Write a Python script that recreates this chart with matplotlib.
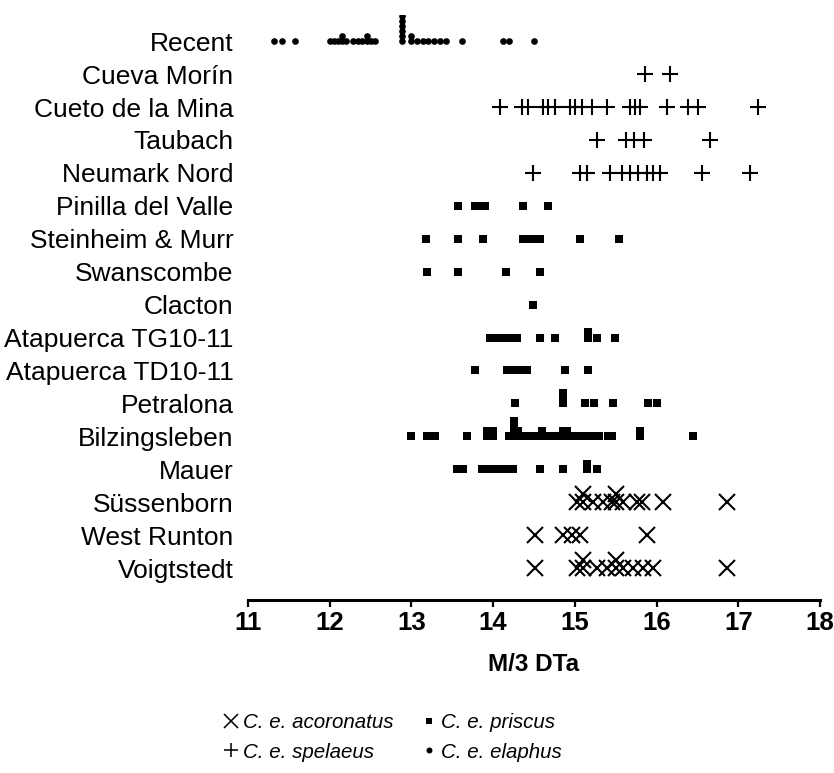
import matplotlib
matplotlib.use('Agg')
import matplotlib.pyplot as plt
from matplotlib.lines import Line2D

plt.rcParams['font.family'] = ['Liberation Sans', 'DejaVu Sans']

# ---- data (top row first) ----
sites = ["Recent", "Cueva Morín", "Cueto de la Mina", "Taubach", "Neumark Nord",
         "Pinilla del Valle", "Steinheim & Murr", "Swanscombe", "Clacton",
         "Atapuerca TG10-11", "Atapuerca TD10-11", "Petralona", "Bilzingsleben",
         "Mauer", "Süssenborn", "West Runton", "Voigtstedt"]

recent = [11.32, 11.42, 11.58, 12.0, 12.05, 12.1, 12.15, 12.15, 12.2, 12.28, 12.35,
          12.4, 12.45, 12.45, 12.5, 12.55, 12.88, 12.88, 12.88, 12.88, 12.88, 12.88,
          13.0, 13.0, 13.07, 13.14, 13.2, 13.28, 13.35, 13.42, 13.62, 14.12, 14.2, 14.5]
cueva_morin = [15.86, 16.17]
cueto_mina = [14.08, 14.35, 14.43, 14.61, 14.67, 14.76, 14.94, 15.0, 15.09, 15.21,
              15.39, 15.68, 15.74, 15.8, 16.13, 16.39, 16.51, 17.24]
taubach = [15.27, 15.62, 15.72, 15.85, 16.65]
neumark = [14.49, 15.06, 15.15, 15.43, 15.58, 15.68, 15.77, 15.88, 15.96, 16.04,
           16.56, 17.14]
pinilla = [13.57, 13.78, 13.84, 13.9, 14.37, 14.67]
steinheim = [13.18, 13.57, 13.88, 14.37, 14.45, 14.51, 14.57, 15.06, 15.54]
swanscombe = [13.19, 13.57, 14.16, 14.57]
clacton = [14.49]
atap_tg = [13.96, 14.05, 14.12, 14.2, 14.29, 14.57, 14.76, 15.16, 15.16, 15.27, 15.49]
atap_td = [13.78, 14.17, 14.24, 14.33, 14.41, 14.88, 15.16]
petralona = [14.27, 14.86, 14.86, 14.86, 15.12, 15.24, 15.47, 15.9, 16.0]
bilzingsleben = [13.0, 13.19, 13.29, 13.68, 13.93, 13.93, 14.0, 14.0, 14.2, 14.25,
                 14.25, 14.25, 14.25, 14.3, 14.3, 14.38, 14.45, 14.5, 14.55, 14.6,
                 14.6, 14.68, 14.75, 14.8, 14.85, 14.85, 14.9, 14.9, 14.95, 15.0,
                 15.05, 15.12, 15.2, 15.3, 15.4, 15.45, 15.8, 15.8, 16.45]
mauer = [13.56, 13.63, 13.86, 13.92, 14.0, 14.05, 14.1, 14.17, 14.24, 14.57, 14.86,
         15.15, 15.15, 15.27]
sussenborn = [15.03, 15.1, 15.1, 15.22, 15.35, 15.46, 15.5, 15.5, 15.59, 15.76,
              15.82, 16.08, 16.86]
west_runton = [14.51, 14.86, 14.97, 15.06, 15.88]
voigtstedt = [14.51, 15.03, 15.1, 15.1, 15.27, 15.39, 15.5, 15.5, 15.59, 15.71,
              15.84, 15.96, 16.86]

site_values = [recent, cueva_morin, cueto_mina, taubach, neumark, pinilla, steinheim,
               swanscombe, clacton, atap_tg, atap_td, petralona, bilzingsleben, mauer,
               sussenborn, west_runton, voigtstedt]
site_taxon = ["elaphus", "spelaeus", "spelaeus", "spelaeus", "spelaeus",
              "priscus", "priscus", "priscus", "priscus", "priscus", "priscus",
              "priscus", "priscus", "priscus",
              "acoronatus", "acoronatus", "acoronatus"]

taxa = ["acoronatus", "spelaeus", "priscus", "elaphus"]
taxon_labels = ["C. e. acoronatus", "C. e. spelaeus", "C. e. priscus", "C. e. elaphus"]
x_ticks = [11, 12, 13, 14, 15, 16, 17, 18]

# ---- styles ----
style = {
    "elaphus": dict(marker="o", ms=4.8, mew=0, stack=0.15),
    "priscus": dict(marker="s", ms=5.2, mew=0, stack=0.16),
    "spelaeus": dict(marker="+", ms=11.5, mew=1.5, stack=0.22),
    "acoronatus": dict(marker="x", ms=11, mew=1.5, stack=0.25),
}

fig = plt.figure(figsize=(8.34, 7.73), dpi=100)
ax = fig.add_axes([0.2974, 0.2238, 0.6858, 0.757])

n = len(sites)
for i, (vals, tax) in enumerate(zip(site_values, site_taxon)):
    yrow = n - 1 - i
    st = style[tax]
    seen = {}
    xs, ys = [], []
    for v in vals:
        k = seen.get(v, 0)
        seen[v] = k + 1
        xs.append(v)
        ys.append(yrow + k * st["stack"])
    ax.plot(xs, ys, linestyle="none", marker=st["marker"], ms=st["ms"],
            mew=st["mew"], color="black", mec="black")

ax.set_xlim(11, 18)
ax.set_ylim(-0.97, n - 1 + 0.8)
ax.set_yticks(range(n))
ax.set_yticklabels(sites[::-1], fontsize=19)
ax.tick_params(axis="y", length=0, pad=10.5)
ax.set_xticks(x_ticks)
ax.set_xticklabels([str(t) for t in x_ticks], fontsize=18.5, fontweight="bold")
ax.tick_params(axis="x", direction="out", length=5, width=1.6, pad=3)
for s in ["top", "right", "left"]:
    ax.spines[s].set_visible(False)
ax.spines["bottom"].set_linewidth(2.2)
ax.set_xlabel("M/3 DTa", fontsize=17.5, fontweight="bold", labelpad=13)

handles = [Line2D([], [], linestyle="none", color="black", marker=style[t]["marker"],
                  ms=style[t]["ms"] * (0.9 if t in ("acoronatus", "spelaeus") else 0.9),
                  mew=style[t]["mew"] * 0.75) for t in taxa]
fig.legend(handles, taxon_labels, loc="center left", bbox_to_anchor=(0.245, 0.046),
           ncol=2, frameon=False, handlelength=0.8, handletextpad=0.2,
           columnspacing=1.3, labelspacing=0.5,
           prop=dict(family="Liberation Sans", style="italic", size=14.8))

fig.savefig("out.png", dpi=100)
